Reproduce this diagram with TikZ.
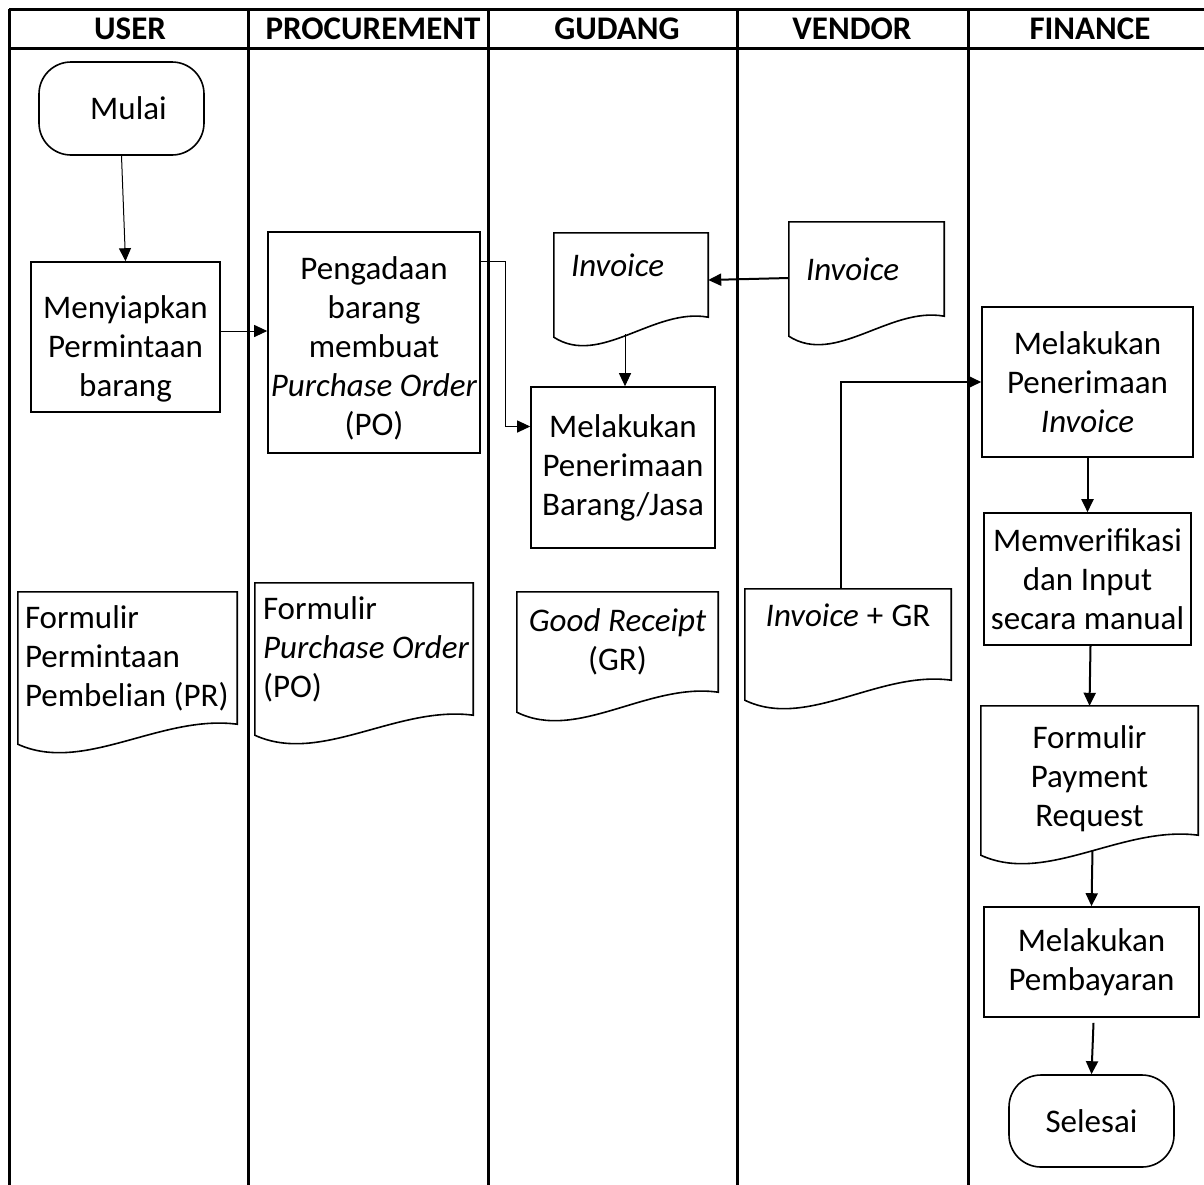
\documentclass[tikz,border=0pt]{standalone}
\usepackage{fontspec}
\setmainfont{Carlito}
\usepackage{tikz}
\usetikzlibrary{arrows.meta,calc}

\newcommand{\diagfont}{\fontsize{33}{39}\selectfont}
\newcommand{\docframe}[1]{%
  \draw[docline] (#1.north west) -- (#1.north east) -- (#1.south east)
    .. controls ($(#1.south west)!0.65!(#1.south east)+(0,-10)$)
       and ($(#1.south west)!0.3!(#1.south east)+(0,50)$) ..
    ($(#1.south west)+(0,20)$) -- cycle;}

\begin{document}
\begin{tikzpicture}[x=1pt,y=-1pt,
    every node/.style={font=\diagfont},
    lane/.style={line width=3pt},
    header/.style={font=\diagfont\bfseries},
    proc/.style={draw, line width=1.6pt, align=center, inner sep=2pt},
    term/.style={draw, line width=1.6pt, rounded corners=32pt, minimum width=165, minimum height=93},
    doc/.style={inner ysep=0pt, inner xsep=8pt, execute at begin node={\spaceskip=0pt\xspaceskip=0pt}},
    docline/.style={line width=1.6pt},
    thinarrow/.style={-{Triangle[length=13pt,width=12pt]}, line width=1pt},
    arrow/.style={-{Triangle[length=13pt,width=12pt]}, line width=2pt}]

\useasboundingbox (0,0) rectangle (1204,1184);
\clip (0,0) rectangle (1204,1184);

% lanes
\draw[lane] (9,9) -- (1220,9);
\draw[lane] (9,48) -- (1220,48);
\foreach \x in {9,248,488,737,968}
  \draw[lane] (\x,9) -- (\x,1200);
\foreach \lbl/\x/\nm in {USER/130/user, PROCUREMENT/373/proc, GUDANG/617/gudang, VENDOR/852/vendor, FINANCE/1090/finance}
  \node[header] (hdr\nm) at (\x,29) {\lbl};

% user
\node[term] (mulai) at (121.5,108.5) {\hspace*{14pt}Mulai};
\node[proc, minimum width=189, minimum height=150] (menyiapkan) at (125.5,337) {\rule{0pt}{46pt}Menyiapkan\\Permintaan\\barang};
\node[doc, minimum width=219, minimum height=132, text width=205, inner xsep=7pt, align=left] (formpr) at (127.5,658) {Formulir\\Permintaan\\Pembelian (PR)};
\docframe{formpr}

% procurement
\node[proc, minimum width=212, minimum height=221] (pengadaan) at (374,342.5) {\rule{0pt}{34pt}Pengadaan\\barang\\membuat\\\textit{Purchase Order}\\(PO)};
\node[doc, minimum width=218, minimum height=132, text width=202, align=left] (formpo) at (364,649) {Formulir\\\mbox{\textit{Purchase Order}}\\(PO)};
\docframe{formpo}

% gudang
\node[doc, minimum width=154, minimum height=84, text width=120, inner xsep=17pt, align=left] (invgudang) at (631,275) {\textit{Invoice}\\[-20pt]\mbox{}};
\docframe{invgudang}
\node[proc, minimum width=184, minimum height=161] (terimabarang) at (623,467.5) {Melakukan\\Penerimaan\\Barang/Jasa};
\node[doc, minimum width=201, minimum height=100, text width=185, align=center] (goodreceipt) at (617.5,642) {\textit{Good Receipt}\\(GR)};
\docframe{goodreceipt}

% vendor
\node[doc, minimum width=155, minimum height=94, text width=121, inner xsep=17pt, align=left] (invvendor) at (866.5,269) {\textit{Invoice}};
\docframe{invvendor}
\node[doc, minimum width=206, minimum height=91, text width=190, align=center] (invgr) at (848,634.5) {\textit{Invoice} + GR\\\mbox{}};
\docframe{invgr}

% finance
\node[proc, minimum width=211, minimum height=150] (terimainvoice) at (1087.5,382) {Melakukan\\Penerimaan\\\textit{Invoice}};
\node[proc, minimum width=207, minimum height=132] (verifikasi) at (1087.5,579) {Memverifikasi\\dan Input\\secara manual};
\node[doc, minimum width=217, minimum height=129, text width=201, align=center] (payment) at (1089.5,770.5) {\rule{0pt}{40pt}Formulir\\Payment\\Request};
\docframe{payment}
\node[proc, minimum width=215, minimum height=110] (pembayaran) at (1091.5,962) {Melakukan\\Pembayaran};
\node[term, minimum height=92] (selesai) at (1091.5,1121) {Selesai};

% connectors
\draw[thinarrow] (mulai.south) -- (menyiapkan.north);
\draw[thinarrow] ([yshift=6pt]menyiapkan.east) -- ([yshift=6pt]menyiapkan.east -| pengadaan.west);
\draw[thinarrow] ([yshift=-30pt]pengadaan.north east) -- ++(25,0) |- ([yshift=41pt]terimabarang.west);
\draw[arrow] ([yshift=-9pt]invvendor.west) -- ([yshift=-5pt]invgudang.east);
\draw[thinarrow] ($(terimabarang.north |- invgudang.south)+(2,17)$) -- ([xshift=2pt]terimabarang.north);
\draw[arrow] ([xshift=-7pt]invgr.north) |- (terimainvoice.west);
\draw[arrow] (terimainvoice.south) -- (verifikasi.north);
\draw[arrow] ([xshift=3pt]verifikasi.south) -- (payment.north);
\draw[arrow] ($(payment.south)+(3,15)$) -- (pembayaran.north);
\draw[arrow] ($(pembayaran.south)+(2,5)$) -- (selesai.north);
\end{tikzpicture}
\end{document}
